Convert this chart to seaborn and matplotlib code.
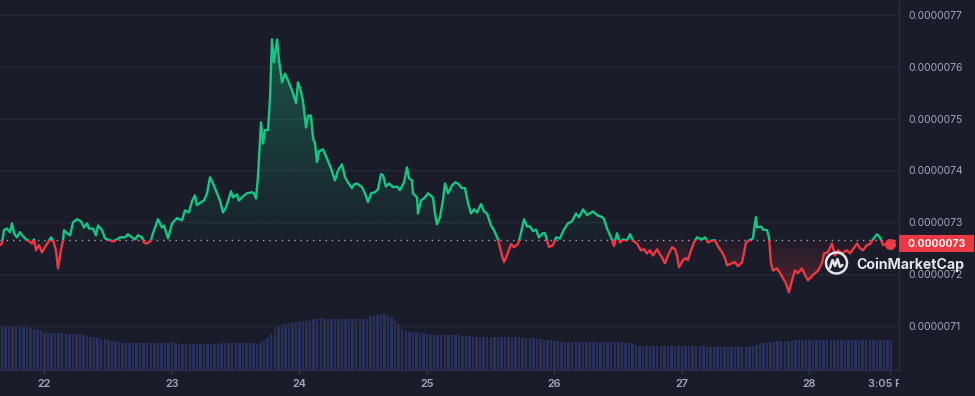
import matplotlib.pyplot as plt
import matplotlib.colors as mcolors
import matplotlib.transforms as mtransforms
from matplotlib.patches import Rectangle, Circle
from matplotlib.lines import Line2D
import numpy as np
import pandas as pd
import seaborn as sns

# Price history, price in units of 1e-7 USD, time as day of month
price_day = [
    21.651, 21.667, 21.682, 21.706, 21.729, 21.745, 21.761, 21.784, 21.808, 21.831,
    21.847, 21.871, 21.902, 21.918, 21.933, 21.957, 21.980, 22.004, 22.027, 22.051,
    22.067, 22.090, 22.106, 22.129, 22.145, 22.153, 22.176, 22.200, 22.224, 22.255,
    22.286, 22.310, 22.333, 22.349, 22.380, 22.404, 22.420, 22.451, 22.475, 22.498,
    22.537, 22.569, 22.592, 22.631, 22.655, 22.686, 22.710, 22.733, 22.765, 22.780,
    22.804, 22.835, 22.851, 22.890, 22.922, 22.937, 22.969, 23.000, 23.039, 23.078,
    23.102, 23.133, 23.157, 23.180, 23.196, 23.227, 23.251, 23.275, 23.298, 23.322,
    23.353, 23.376, 23.400, 23.424, 23.463, 23.478, 23.510, 23.525, 23.557, 23.588,
    23.627, 23.643, 23.659, 23.674, 23.698, 23.714, 23.729, 23.753, 23.769, 23.784,
    23.800, 23.824, 23.839, 23.863, 23.886, 23.910, 23.949, 23.973, 23.988, 24.004,
    24.027, 24.051, 24.067, 24.090, 24.106, 24.122, 24.137, 24.153, 24.184, 24.216,
    24.247, 24.278, 24.302, 24.333, 24.357, 24.380, 24.412, 24.427, 24.451, 24.490,
    24.514, 24.537, 24.561, 24.592, 24.616, 24.639, 24.655, 24.678, 24.702, 24.733,
    24.765, 24.788, 24.820, 24.843, 24.859, 24.882, 24.890, 24.922, 24.929, 24.953,
    24.984, 25.008, 25.047, 25.063, 25.078, 25.102, 25.125, 25.141, 25.165, 25.196,
    25.220, 25.243, 25.274, 25.298, 25.322, 25.345, 25.369, 25.392, 25.424, 25.447,
    25.471, 25.502, 25.525, 25.557, 25.588, 25.604, 25.627, 25.659, 25.682, 25.714,
    25.737, 25.761, 25.784, 25.808, 25.831, 25.855, 25.878, 25.910, 25.925, 25.957,
    25.988, 26.012, 26.043, 26.074, 26.106, 26.137, 26.169, 26.192, 26.224, 26.255,
    26.302, 26.333, 26.373, 26.388, 26.412, 26.443, 26.467, 26.490, 26.514, 26.537,
    26.569, 26.592, 26.616, 26.647, 26.678, 26.702, 26.725, 26.749, 26.773, 26.804,
    26.843, 26.867, 26.890, 26.922, 26.945, 26.961, 26.976, 27.008, 27.031, 27.047,
    27.071, 27.094, 27.118, 27.157, 27.180, 27.204, 27.235, 27.259, 27.282, 27.314,
    27.337, 27.353, 27.392, 27.416, 27.439, 27.471, 27.486, 27.502, 27.525, 27.557,
    27.565, 27.580, 27.588, 27.620, 27.635, 27.667, 27.682, 27.698, 27.714, 27.745,
    27.769, 27.792, 27.816, 27.839, 27.863, 27.886, 27.910, 27.941, 27.965, 27.988,
    28.027, 28.067, 28.098, 28.114, 28.145, 28.176, 28.200, 28.224, 28.255, 28.294,
    28.318, 28.341, 28.373, 28.396, 28.420, 28.451, 28.475, 28.498, 28.529, 28.553,
    28.576, 28.600, 28.614, 28.628,
]
price = [
    72.56, 72.59, 72.85, 72.88, 72.81, 72.98, 72.79, 72.71, 72.81, 72.73,
    72.69, 72.65, 72.59, 72.67, 72.46, 72.56, 72.42, 72.52, 72.61, 72.71,
    72.65, 72.46, 72.11, 72.46, 72.65, 72.85, 72.79, 72.75, 73.00, 73.06,
    73.02, 72.90, 72.98, 72.88, 72.88, 72.75, 72.94, 72.85, 72.69, 72.67,
    72.63, 72.67, 72.71, 72.71, 72.77, 72.71, 72.67, 72.75, 72.71, 72.61,
    72.59, 72.65, 72.79, 73.06, 72.90, 72.94, 72.69, 72.98, 73.08, 73.04,
    73.23, 73.19, 73.41, 73.52, 73.33, 73.39, 73.42, 73.56, 73.87, 73.75,
    73.56, 73.42, 73.19, 73.29, 73.60, 73.48, 73.54, 73.42, 73.50, 73.56,
    73.58, 73.56, 73.46, 73.87, 74.93, 74.52, 74.78, 74.78, 75.41, 76.53,
    76.09, 76.53, 76.13, 75.70, 75.87, 75.74, 75.49, 75.30, 75.70, 75.59,
    75.35, 74.83, 75.06, 75.06, 74.62, 74.52, 74.16, 74.37, 74.41, 74.23,
    74.04, 73.81, 74.00, 74.12, 73.87, 73.77, 73.66, 73.73, 73.75, 73.68,
    73.56, 73.39, 73.56, 73.58, 73.64, 73.93, 73.91, 73.69, 73.75, 73.68,
    73.69, 73.62, 73.77, 74.06, 73.85, 73.81, 73.56, 73.48, 73.17, 73.42,
    73.48, 73.56, 73.48, 73.17, 72.96, 73.10, 73.42, 73.75, 73.56, 73.71,
    73.77, 73.75, 73.66, 73.66, 73.37, 73.17, 73.25, 73.19, 73.35, 73.21,
    73.17, 72.94, 72.85, 72.67, 72.36, 72.23, 72.36, 72.58, 72.52, 72.58,
    72.79, 73.06, 72.92, 72.92, 72.83, 72.86, 72.71, 72.79, 72.79, 72.52,
    72.56, 72.71, 72.69, 72.86, 72.98, 73.02, 73.17, 73.10, 73.25, 73.14,
    73.21, 73.14, 73.10, 73.06, 72.88, 72.71, 72.54, 72.79, 72.61, 72.67,
    72.65, 72.77, 72.65, 72.59, 72.46, 72.48, 72.40, 72.46, 72.36, 72.48,
    72.32, 72.21, 72.36, 72.52, 72.48, 72.36, 72.13, 72.27, 72.31, 72.27,
    72.46, 72.61, 72.71, 72.67, 72.71, 72.61, 72.65, 72.65, 72.54, 72.42,
    72.31, 72.17, 72.21, 72.23, 72.15, 72.23, 72.40, 72.61, 72.65, 72.69,
    72.86, 73.10, 72.90, 72.92, 72.86, 72.85, 72.71, 72.21, 72.07, 72.11,
    72.02, 71.92, 71.82, 71.65, 71.88, 72.07, 72.02, 72.11, 71.98, 71.88,
    71.98, 72.07, 72.21, 72.40, 72.42, 72.59, 72.36, 72.46, 72.40, 72.46,
    72.40, 72.48, 72.59, 72.50, 72.46, 72.56, 72.58, 72.67, 72.77, 72.71,
    72.56, 72.59, 72.52, 72.59,
]
open_price = 72.665
last_label = "0.0000073"

# 24h volume, one bar every 40 minutes (relative units)
vol_start = 21.667
volume = [
    4.27, 4.27, 4.27, 4.27, 4.35, 4.43, 4.43, 4.30, 4.20, 4.12,
    4.00, 3.90, 3.75, 3.70, 3.70, 3.70, 3.70, 3.70, 3.65, 3.57,
    3.57, 3.57, 3.57, 3.55, 3.45, 3.35, 3.27, 3.20, 3.13, 3.10,
    3.04, 2.95, 2.87, 2.80, 2.73, 2.73, 2.73, 2.73, 2.73, 2.73,
    2.73, 2.73, 2.73, 2.73, 2.73, 2.73, 2.73, 2.73, 2.80, 2.70,
    2.63, 2.63, 2.63, 2.63, 2.63, 2.63, 2.63, 2.63, 2.63, 2.63,
    2.63, 2.63, 2.73, 2.67, 2.67, 2.67, 2.67, 2.67, 2.67, 2.67,
    2.67, 2.67, 2.63, 2.75, 3.00, 3.20, 3.60, 4.10, 4.35, 4.53,
    4.60, 4.65, 4.73, 4.77, 4.83, 4.90, 4.95, 5.02, 5.10, 5.15,
    5.17, 5.13, 5.10, 5.10, 5.10, 5.10, 5.10, 5.10, 5.10, 5.10,
    5.10, 5.10, 5.10, 5.10, 5.40, 5.47, 5.53, 5.60, 5.60, 5.52,
    5.30, 4.93, 4.60, 4.15, 3.92, 3.85, 3.80, 3.78, 3.75, 3.68,
    3.60, 3.53, 3.50, 3.50, 3.50, 3.50, 3.50, 3.47, 3.47, 3.47,
    3.45, 3.40, 3.37, 3.35, 3.34, 3.34, 3.34, 3.34, 3.34, 3.34,
    3.34, 3.33, 3.32, 3.30, 3.30, 3.28, 3.26, 3.24, 3.22, 3.20,
    3.18, 3.13, 3.08, 3.05, 3.02, 3.00, 2.95, 2.90, 2.85, 2.83,
    2.80, 2.80, 2.80, 2.80, 2.80, 2.80, 2.80, 2.80, 2.80, 2.80,
    2.80, 2.80, 2.80, 2.80, 2.80, 2.80, 2.75, 2.70, 2.60, 2.50,
    2.45, 2.42, 2.40, 2.38, 2.37, 2.37, 2.37, 2.37, 2.37, 2.37,
    2.37, 2.37, 2.37, 2.37, 2.37, 2.37, 2.37, 2.37, 2.37, 2.32,
    2.27, 2.27, 2.27, 2.27, 2.27, 2.27, 2.27, 2.27, 2.27, 2.27,
    2.27, 2.32, 2.45, 2.52, 2.60, 2.67, 2.73, 2.80, 2.84, 2.87,
    2.90, 2.93, 2.95, 2.97, 2.99, 3.01, 3.02, 3.03, 3.04, 3.04,
    3.04, 3.04, 3.04, 3.04, 3.04, 3.04, 3.04, 3.04, 3.04, 3.04,
    3.04, 3.02, 2.99, 2.97, 2.97, 2.97, 2.97, 2.97, 2.97, 2.97,
    2.97, 2.97,
]

day_ticks = [22, 23, 24, 25, 26, 27, 28]
end_day = 28.628
end_label = "3:05 PM"
price_ticks = [71, 72, 73, 74, 75, 76, 77]

BG = "#1a1c29"
GREEN = "#16c784"
RED = "#ea3943"
GRID = "#262939"
TEXT = "#a1a7bb"
VOL = "#27315c"

sns.set_theme(style="dark", rc={"axes.facecolor": BG, "figure.facecolor": BG,
                                "savefig.facecolor": BG, "axes.edgecolor": GRID})
plt.rcParams['font.family'] = ['Inter', 'DejaVu Sans']

df = pd.DataFrame({"day": price_day, "price": price})
vol_day = vol_start + np.arange(len(volume)) / 36

fig = plt.figure(figsize=(9.75, 3.96), dpi=100)
rect = [0, 26 / 396, 899 / 975, 370 / 396]
xlim = (21.651, 28.702)

# volume bars underneath
ax_v = fig.add_axes(rect)
ax_v.bar(vol_day, volume, width=0.0195, color=VOL, linewidth=0)
ax_v.set_xlim(*xlim)
ax_v.set_ylim(0, 37)
ax_v.axis("off")

ax = fig.add_axes(rect)
ax.patch.set_visible(False)


def gradient_fill(ax, x, y, base, color, alpha_max, above):
    x = np.asarray(x)
    y = np.asarray(y)
    yy = np.maximum(y, base) if above else np.minimum(y, base)
    poly = ax.fill_between(x, base, yy, color="none", lw=0)
    rgba = np.zeros((256, 1, 4))
    rgba[..., :3] = mcolors.to_rgb(color)
    ramp = np.linspace(0.03, alpha_max, 256)
    if above:
        rgba[:, 0, 3] = ramp
        ext = [x.min(), x.max(), base, yy.max()]
    else:
        rgba[:, 0, 3] = ramp[::-1]
        ext = [x.min(), x.max(), yy.min(), base]
    im = ax.imshow(rgba, extent=ext, origin="lower", aspect="auto", zorder=1)
    im.set_clip_path(poly.get_paths()[0], transform=ax.transData)


gradient_fill(ax, price_day, price, open_price, GREEN, 0.34, True)
gradient_fill(ax, price_day, price, open_price, RED, 0.28, False)

sns.lineplot(data=df, x="day", y="price", color=GREEN, lw=1.7, errorbar=None, ax=ax, zorder=3)
ax.lines[-1].set_clip_path(Rectangle((20, open_price), 10, 10, transform=ax.transData))
sns.lineplot(data=df, x="day", y="price", color=RED, lw=1.7, errorbar=None, ax=ax, zorder=3)
ax.lines[-1].set_clip_path(Rectangle((20, open_price - 10), 10, 10, transform=ax.transData))

ax.axhline(open_price, color="#a4a9b8", ls=(0, (1, 3.5)), lw=1, zorder=2)
ax.plot([price_day[-1]], [price[-1]], "o", color=RED, ms=7, zorder=4)

ax.set_xlim(*xlim)
ax.set_ylim(70.15, 77.29)
ax.set_xlabel("")
ax.set_ylabel("")

ax.set_yticks(price_ticks)
ax.set_yticklabels([f"{t * 1e-7:.7f}" for t in price_ticks])
ax.yaxis.tick_right()
ax.yaxis.grid(True, color=GRID, lw=1)
ax.xaxis.grid(False)
ax.set_xticks(day_ticks + [end_day])
ax.set_xticklabels([str(d) for d in day_ticks] + [""])
ax.tick_params(axis="x", length=3, width=1, color="#33364a", labelcolor=TEXT,
               labelsize=7.8, pad=3.5, bottom=True)
ax.tick_params(axis="y", length=0, labelcolor=TEXT, labelsize=7.5, pad=7, right=True, left=False)
for lbl in ax.get_xticklabels():
    lbl.set_fontweight("semibold")
for side in ["top", "left"]:
    ax.spines[side].set_visible(False)
for side in ["right", "bottom"]:
    ax.spines[side].set_color("#2c2f3f")
    ax.spines[side].set_linewidth(1)

# time label at the end, clipped by the price axis
blend = mtransforms.blended_transform_factory(ax.transData, ax.transAxes)
t = fig.text(end_day, 0, end_label, transform=mtransforms.offset_copy(blend, fig=fig, y=-6.5, units="points"),
             ha="center", va="top", fontsize=7.8, fontweight="semibold", color=TEXT)
t.set_clip_box(mtransforms.TransformedBbox(mtransforms.Bbox([[0, 0], [899 / 975, 1]]), fig.transFigure))
t.set_clip_on(True)

# current price tag
yblend = mtransforms.blended_transform_factory(ax.transAxes, ax.transData)
ax.add_patch(Rectangle((1.0, price[-1] - 0.17), 75 / 899, 0.34, transform=yblend,
                       facecolor=RED, edgecolor="none", clip_on=False, zorder=5))
ax.text(1.0 + 37.5 / 899, price[-1], last_label, transform=yblend, ha="center", va="center",
        fontsize=7.5, fontweight="bold", color="white", clip_on=False, zorder=6)

# watermark
px = mtransforms.Affine2D().scale(1 / fig.dpi) + fig.dpi_scale_trans
logo_c = "#e2e4ea"
fig.add_artist(Circle((836.5, 133), 10.5, fill=False, lw=1.8, ec=logo_c, transform=px))
fig.add_artist(Line2D([830, 832.5, 835, 837.5, 840, 842.5],
                      [128, 136, 130, 137, 129, 131], lw=1.8, color=logo_c, transform=px))
fig.text(856 / 975, 1 - 265 / 396, "CoinMarketCap", ha="left", va="center",
         fontsize=10.2, fontweight="bold", color=logo_c)

fig.savefig("out.png", dpi=100, facecolor=BG)
